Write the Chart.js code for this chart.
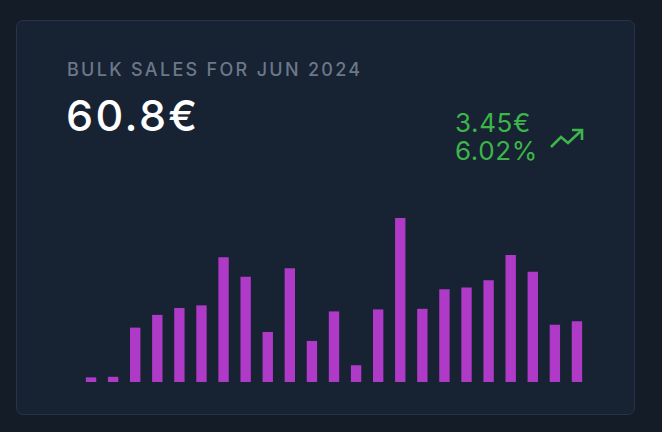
<!DOCTYPE html>
<html>
<head>
<meta charset="utf-8">
<script src="https://cdn.jsdelivr.net/npm/chart.js@4"></script>
<style>
  html, body { margin: 0; padding: 0; background: #141c28; width: 662px; height: 432px; overflow: hidden; }
  .card {
    position: absolute; left: 16px; top: 20px; width: 617px; height: 393px;
    background: #172233; border: 1.5px solid #263348; border-radius: 7px;
    font-family: Inter, "Liberation Sans", sans-serif;
  }
  .title { position: absolute; left: 50px; top: 38px; color: #6b7889; font-size: 18px; font-weight: 500; letter-spacing: 2.3px; }
  .total { position: absolute; left: 49px; top: 68px; color: #ffffff; font-size: 43px; font-weight: 500; letter-spacing: 2.4px; }
  .delta { position: absolute; left: 438px; top: 88px; color: #3cb54a; font-size: 26px; line-height: 28px; letter-spacing: 0.6px; }
  .icon { position: absolute; left: 532px; top: 105px; }
  .chart-box { position: absolute; left: 63px; top: 197px; width: 508px; height: 164px; }
</style>
</head>
<body>
<div class="card">
  <div class="title">BULK SALES FOR JUN 2024</div>
  <div class="total">60.8€</div>
  <div class="delta">3.45€<br>6.02%</div>
  <svg class="icon" width="36" height="24" viewBox="0 0 36 24">
    <polyline points="2,21 12,11 19,17 33,4" fill="none" stroke="#3cb54a" stroke-width="2.6" stroke-linejoin="miter"/>
    <polyline points="23,4 33,4 33,14" fill="none" stroke="#3cb54a" stroke-width="2.6" stroke-linejoin="miter"/>
  </svg>
  <div class="chart-box"><canvas id="bar-chart"></canvas></div>
</div>
<script>
// days of June with sales
const days = ['1', '2', '3', '4', '5', '6', '7', '8', '9', '10', '11', '12',
  '13', '14', '15', '16', '17', '18', '19', '20', '21', '22', '23'];

// daily bulk sales in €
const sales = [0.16, 0.18, 1.88, 2.32, 2.56, 2.65, 4.31, 3.64, 1.73, 3.93, 1.42, 2.44,
  0.58, 2.51, 5.67, 2.53, 3.21, 3.27, 3.52, 4.39, 3.81, 1.98, 2.10];

let purple = 'B03AC8';

const barChart = new Chart(document.getElementById('bar-chart'), {
  type: 'bar',
  data: {
    labels: days,
    datasets: [{
      label: 'Sales',
      data: sales,
      backgroundColor: `#${purple}`,
      barPercentage: 0.47,
      categoryPercentage: 1,
    }]
  },
  options: {
    responsive: true,
    maintainAspectRatio: false,
    animation: false,
    layout: { padding: 0 },
    plugins: {
      legend: { display: false },
      tooltip: { enabled: false }
    },
    scales: {
      x: { display: false },
      y: { display: false, min: 0, max: Math.max(...sales) }
    }
  }
});
</script>
</body>
</html>
